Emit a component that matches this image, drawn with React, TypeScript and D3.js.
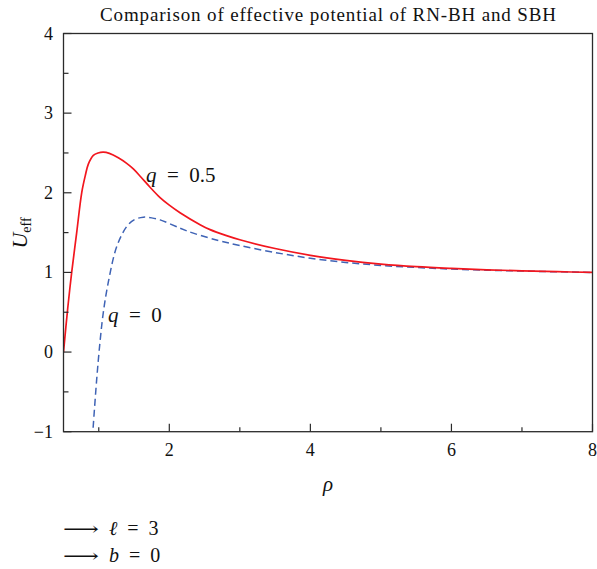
import React from "react";
import * as d3 from "d3";

// Effective potential U_eff(ρ) for the RN black hole (q = 0.5) and Schwarzschild (q = 0)
const rhoRN = [0.5, 0.56, 0.616, 0.687, 0.758, 0.81, 0.852, 0.923, 0.99, 1.065, 1.15, 1.277, 1.396, 1.49, 1.6, 1.727, 1.869, 2.0, 2.152, 2.436, 2.578, 2.8, 3.0, 3.5, 4.0, 4.5, 5.0, 5.5, 6.0, 6.5, 7.0, 7.5, 8.0];
const uRN = [0.0, 0.55, 1.0, 1.5, 2.0, 2.22, 2.36, 2.47, 2.5, 2.51, 2.495, 2.44, 2.37, 2.3, 2.195, 2.07, 1.94, 1.845, 1.75, 1.6, 1.537, 1.465, 1.41, 1.3, 1.215, 1.152, 1.105, 1.072, 1.05, 1.033, 1.02, 1.009, 1.0];

const rhoSBH = [0.92, 0.97, 1.018, 1.065, 1.136, 1.255, 1.396, 1.5, 1.632, 1.75, 1.869, 2.152, 2.34, 2.7, 3.0, 3.5, 4.0, 4.5, 5.0, 5.5, 6.0, 6.5, 7.0, 7.5, 8.0];
const uSBH = [-0.95, -0.35, 0.13, 0.5, 0.88, 1.325, 1.576, 1.66, 1.694, 1.685, 1.66, 1.556, 1.493, 1.4, 1.338, 1.25, 1.178, 1.125, 1.088, 1.062, 1.042, 1.028, 1.017, 1.008, 1.0];

const xMajorTicks = [2, 4, 6, 8];
const xMinorTicks = [1, 3, 5, 7];
const yMajorTicks = [-1, 0, 1, 2, 3, 4];
const yMinorTicks = [-0.5, 0.5, 1.5, 2.5, 3.5];

const W = 597;
const H = 569;
const left = 63.5;
const right = 592.5;
const top = 33.5;
const bottom = 431.7;

const SERIF = "'Times New Roman', 'Liberation Serif', Tinos, 'Nimbus Roman', 'DejaVu Serif', serif";
const txt = { fontFamily: SERIF, fill: "#111" };

export default function App() {
  const x = d3.scaleLinear().domain([0.5, 8]).range([left, right]);
  const y = d3.scaleLinear().domain([-1, 4]).range([bottom, top]);

  const line = d3
    .line<[number, number]>()
    .x((d) => x(d[0]))
    .y((d) => y(d[1]))
    .curve(d3.curveCatmullRom.alpha(0.5));

  const rnPath = line(rhoRN.map((r, i) => [r, uRN[i]]) as [number, number][]) || "";
  const sbhPath = line(rhoSBH.map((r, i) => [r, uSBH[i]]) as [number, number][]) || "";

  const axisColor = "#2b2b2b";

  return (
    <svg
      width={W}
      height={H}
      style={{ position: "absolute", left: 0, top: 0, background: "#fff" }}
    >
      <defs>
        <clipPath id="plot-clip">
          <rect x={left} y={top} width={right - left} height={bottom - top} />
        </clipPath>
      </defs>

      <text
        x={(left + right) / 2}
        y={21}
        textAnchor="middle"
        fontSize={19}
        textLength={456}
        lengthAdjust="spacing"
        style={txt}
      >
        Comparison of effective potential of RN-BH and SBH
      </text>

      <g clipPath="url(#plot-clip)">
        <path d={sbhPath} fill="none" stroke="#3f63b5" strokeWidth={1.5} strokeDasharray="7,4" />
        <path d={rnPath} fill="none" stroke="#f2161e" strokeWidth={1.7} />
      </g>

      {/* frame */}
      <rect
        x={left}
        y={top}
        width={right - left}
        height={bottom - top}
        fill="none"
        stroke={axisColor}
        strokeWidth={1.3}
      />

      {/* x ticks */}
      {xMajorTicks.map((t) => (
        <g key={"xM" + t}>
          <line x1={x(t)} x2={x(t)} y1={bottom} y2={bottom - 8} stroke={axisColor} strokeWidth={1.2} />
          <text x={x(t)} y={456} textAnchor="middle" fontSize={18} style={txt}>
            {t}
          </text>
        </g>
      ))}
      {xMinorTicks.map((t) => (
        <line key={"xm" + t} x1={x(t)} x2={x(t)} y1={bottom} y2={bottom - 4.5} stroke={axisColor} strokeWidth={1.2} />
      ))}

      {/* y ticks */}
      {yMajorTicks.map((t) => (
        <g key={"yM" + t}>
          <line x1={left} x2={left + 8} y1={y(t)} y2={y(t)} stroke={axisColor} strokeWidth={1.2} />
          <text x={53} y={y(t) + 6} textAnchor="end" fontSize={18} style={txt}>
            {t < 0 ? "\u2212" + Math.abs(t) : t}
          </text>
        </g>
      ))}
      {yMinorTicks.map((t) => (
        <line key={"ym" + t} x1={left} x2={left + 5} y1={y(t)} y2={y(t)} stroke={axisColor} strokeWidth={1.2} />
      ))}

      {/* axis titles */}
      <text x={(left + right) / 2} y={491} textAnchor="middle" fontSize={21} fontStyle="italic" style={txt}>
        ρ
      </text>
      <text transform="translate(27,233) rotate(-90)" textAnchor="middle" fontSize={22} style={txt}>
        <tspan fontStyle="italic">U</tspan>
        <tspan fontSize={14} dy={4}>eff</tspan>
      </text>

      {/* curve labels */}
      <text x={146} y={182} fontSize={21} style={txt} xmlSpace="preserve">
        <tspan fontStyle="italic">q</tspan>
        <tspan>{"  =  0.5"}</tspan>
      </text>
      <text x={108} y={322} fontSize={21} style={txt} xmlSpace="preserve">
        <tspan fontStyle="italic">q</tspan>
        <tspan>{"  =  0"}</tspan>
      </text>

      {/* parameter notes */}
      <text x={63} y={535} fontSize={18} textLength={36} lengthAdjust="spacingAndGlyphs" style={txt}>
        ⟶
      </text>
      <text x={109} y={535} fontSize={20} style={txt} xmlSpace="preserve">
        <tspan fontStyle="italic">ℓ</tspan>
        <tspan>{"  =  3"}</tspan>
      </text>
      <text x={63} y={562} fontSize={18} textLength={36} lengthAdjust="spacingAndGlyphs" style={txt}>
        ⟶
      </text>
      <text x={109} y={562} fontSize={20} style={txt} xmlSpace="preserve">
        <tspan fontStyle="italic">b</tspan>
        <tspan>{"  =  0"}</tspan>
      </text>
    </svg>
  );
}
